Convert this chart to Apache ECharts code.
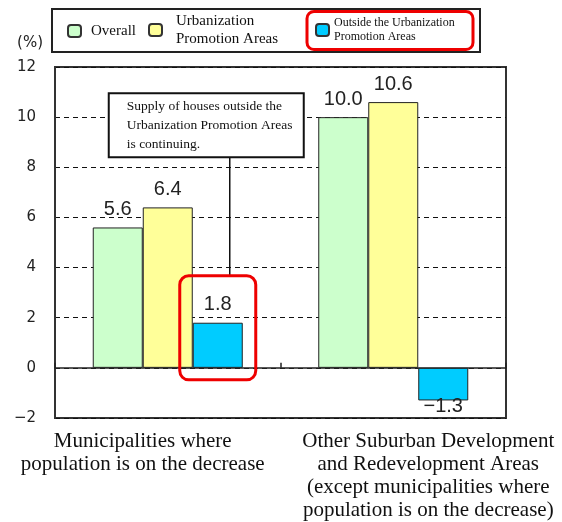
<!DOCTYPE html>
<html>
<head>
<meta charset="utf-8">
<script src="https://cdn.jsdelivr.net/npm/echarts@6/dist/echarts.min.js"></script>
<style>
  html, body { margin: 0; padding: 0; background: #fff; }
  #chart { width: 562px; height: 522px; }
</style>
</head>
<body>
<div id="chart"></div>
<script>
// Rate of change by area type (%)
const categories = [
  'Municipalities where\npopulation is on the decrease',
  'Other Suburban Development\nand Redevelopment Areas\n(except municipalities where\npopulation is on the decrease)'
];
const seriesNames = [
  'Overall',
  'Urbanization\nPromotion Areas',
  'Outside the Urbanization\nPromotion Areas'
];
const overall = [5.6, 10.0];
const urbanPromotion = [6.4, 10.6];
const outsidePromotion = [1.8, -1.3];
const yTicks = [-2, 0, 2, 4, 6, 8, 10, 12];
const calloutText = 'Supply of houses outside the\nUrbanization Promotion Areas\nis continuing.';

const colors = ['#ccffcc', '#ffff99', '#00ccff'];
const minusSign = s => String(s).replace('-', '\u2212');
const valueFmt = p => minusSign(p.value.toFixed(1));

function barSeries(name, data, color) {
  return {
    name: name,
    type: 'bar',
    data: data.map(v => ({
      value: v,
      label: v < 0 ? { position: 'bottom', distance: -4 } : undefined
    })),
    barWidth: 50,
    barGap: '0%',
    itemStyle: { color: color, borderColor: '#222', borderWidth: 1 },
    label: {
      show: true,
      position: 'top',
      distance: 8,
      formatter: valueFmt,
      fontFamily: 'Liberation Sans',
      fontSize: 20,
      color: '#222'
    }
  };
}

const legendCommon = {
  orient: 'horizontal',
  selectedMode: false,
  padding: 0,
  itemWidth: 13,
  itemHeight: 12,
  icon: 'roundRect',
  itemStyle: { borderColor: '#333', borderWidth: 2 }
};

const catFont = { fontFamily: 'Liberation Serif', fontSize: 21, lineHeight: 23, color: '#111' };

const option = {
  animation: false,
  backgroundColor: '#fff',
  grid: {
    left: 55, right: 56, top: 67, bottom: 104,
    containLabel: false,
    outerBoundsMode: 'none',
    show: true, borderColor: '#333', borderWidth: 2
  },
  legend: [
    Object.assign({}, legendCommon, {
      left: 67, top: 22, data: [seriesNames[0]],
      textStyle: { fontFamily: 'Liberation Serif', fontSize: 15, lineHeight: 18, color: '#111', padding: [0, 0, 0, 5] }
    }),
    Object.assign({}, legendCommon, {
      left: 148, top: 12, data: [seriesNames[1]],
      textStyle: { fontFamily: 'Liberation Serif', fontSize: 15, lineHeight: 18, color: '#111', padding: [0, 0, 0, 9] }
    }),
    Object.assign({}, legendCommon, {
      left: 315, top: 16, data: [seriesNames[2]],
      textStyle: { fontFamily: 'Liberation Serif', fontSize: 12, lineHeight: 14, color: '#111', padding: [0, 0, 0, 0] }
    })
  ],
  xAxis: {
    type: 'category',
    data: categories,
    axisLine: { onZero: true, lineStyle: { color: '#222', width: 1.5 } },
    axisTick: { show: true, inside: true, length: 5, lineStyle: { color: '#222', width: 1.5 } },
    axisLabel: Object.assign({
      interval: 0,
      margin: 12,
      formatter: (v, i) => (i === 0 ? '{l|' + v + '}' : '{r|' + v + '}'),
      rich: {
        l: Object.assign({ padding: [0, 50, 0, 0] }, catFont),
        r: Object.assign({ padding: [0, 0, 0, 70] }, catFont)
      }
    }, catFont)
  },
  yAxis: {
    type: 'value',
    min: yTicks[0],
    max: yTicks[yTicks.length - 1],
    interval: 2,
    name: '(%)',
    nameLocation: 'end',
    nameGap: 24,
    nameTextStyle: {
      fontFamily: 'DejaVu Sans', fontSize: 15, color: '#222',
      align: 'right', verticalAlign: 'middle', padding: [0, 12, 0, 0]
    },
    axisLine: { show: true, lineStyle: { color: '#333', width: 2 } },
    axisTick: { show: false },
    axisLabel: { fontFamily: 'DejaVu Sans', fontSize: 15, color: '#222', margin: 19, formatter: v => minusSign(v) },
    splitLine: { show: true, lineStyle: { color: '#111', width: 1, type: [5, 4] } }
  },
  series: [
    barSeries(seriesNames[0], overall, colors[0]),
    barSeries(seriesNames[1], urbanPromotion, colors[1]),
    barSeries(seriesNames[2], outsidePromotion, colors[2])
  ]
};

const chart = echarts.init(document.getElementById('chart'), null, { renderer: 'canvas' });
chart.setOption(option);

// Legend frame, highlight boxes and the callout, placed from axis pixel positions
const toPx = (ci, v) => chart.convertToPixel({ xAxisIndex: 0, yAxisIndex: 0 }, [ci, v]);
const c0 = toPx(0, 0);
const cx = c0[0];
const y0 = c0[1];
const yBlue = toPx(0, outsidePromotion[0])[1];
const y10 = toPx(0, 10)[1];
const blueLeft = cx + 25, blueRight = cx + 75;

const boxTop = yBlue - 47;
const calloutTop = y10 - 24, calloutBottom = y10 + 40;
const calloutLeft = cx - 59, calloutRight = cx + 136;
const leaderX = cx + 62;

chart.setOption({
  graphic: [
    {
      type: 'rect', z: 100,
      shape: { x: 52, y: 9, width: 428, height: 43 },
      style: { fill: 'none', stroke: '#222', lineWidth: 2 }
    },
    {
      type: 'rect', z: 101,
      shape: { x: 307, y: 11.5, width: 166, height: 38, r: 7 },
      style: { fill: 'none', stroke: '#ee0000', lineWidth: 3 }
    },
    {
      type: 'line', z: 100,
      shape: { x1: leaderX, y1: calloutBottom, x2: leaderX, y2: boxTop },
      style: { stroke: '#111', lineWidth: 1.5 }
    },
    {
      type: 'rect', z: 100,
      shape: { x: calloutLeft, y: calloutTop, width: calloutRight - calloutLeft, height: calloutBottom - calloutTop },
      style: { fill: '#fff', stroke: '#111', lineWidth: 2 }
    },
    {
      type: 'text', z: 101,
      x: calloutLeft + 18, y: calloutTop + 4,
      style: {
        text: calloutText,
        fontFamily: 'Liberation Serif', fontSize: 13.5, lineHeight: 19,
        fill: '#111', align: 'left', verticalAlign: 'top'
      }
    },
    {
      type: 'rect', z: 101,
      shape: { x: blueLeft - 13, y: boxTop, width: (blueRight - blueLeft) + 26, height: (y0 + 12) - boxTop, r: 9 },
      style: { fill: 'none', stroke: '#ee0000', lineWidth: 3 }
    }
  ]
});
</script>
</body>
</html>
